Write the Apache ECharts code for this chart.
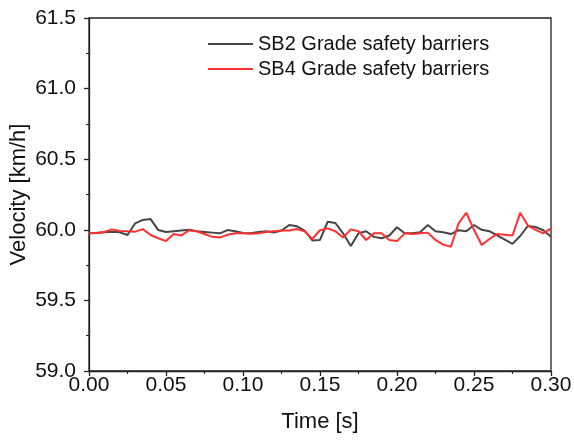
<!DOCTYPE html>
<html>
<head>
<meta charset="utf-8">
<script src="https://cdn.jsdelivr.net/npm/echarts@6/dist/echarts.min.js"></script>
<style>
  html, body { margin: 0; padding: 0; background: #fff; }
  #chart { width: 574px; height: 440px; }
</style>
</head>
<body>
<div id="chart"></div>
<script>
// time samples [s]
var times = [0.000, 0.005, 0.010, 0.015, 0.020, 0.025, 0.030, 0.035, 0.040, 0.045,
  0.050, 0.055, 0.060, 0.065, 0.070, 0.075, 0.080, 0.085, 0.090, 0.095,
  0.100, 0.105, 0.110, 0.115, 0.120, 0.125, 0.130, 0.135, 0.140, 0.145,
  0.150, 0.155, 0.160, 0.165, 0.170, 0.175, 0.180, 0.185, 0.190, 0.195,
  0.200, 0.205, 0.210, 0.215, 0.220, 0.225, 0.230, 0.235, 0.240, 0.245,
  0.250, 0.255, 0.260, 0.265, 0.270, 0.275, 0.280, 0.285, 0.290, 0.295, 0.300];

// SB2 velocity [km/h]
var sb2 = [59.975, 59.978, 59.982, 59.987, 59.982, 59.963, 60.046, 60.070, 60.076, 59.998,
  59.985, 59.990, 59.995, 60.000, 59.990, 59.985, 59.980, 59.975, 59.998, 59.990,
  59.978, 59.975, 59.985, 59.990, 59.980, 59.995, 60.034, 60.025, 59.995, 59.925,
  59.928, 60.057, 60.048, 59.975, 59.885, 59.975, 59.990, 59.950, 59.940, 59.960,
  60.018, 59.975, 59.975, 59.983, 60.034, 59.990, 59.983, 59.970, 59.997, 59.990,
  60.034, 60.000, 59.990, 59.960, 59.930, 59.900, 59.956, 60.027, 60.020, 59.997, 59.950];

// SB4 velocity [km/h]
var sb4 = [59.975, 59.978, 59.985, 60.003, 59.992, 59.990, 59.987, 60.005, 59.963, 59.940,
  59.920, 59.970, 59.960, 59.997, 59.990, 59.970, 59.950, 59.945, 59.965, 59.975,
  59.975, 59.972, 59.975, 59.985, 59.990, 59.995, 59.995, 60.005, 59.990, 59.935,
  59.997, 60.010, 59.990, 59.945, 60.003, 59.990, 59.928, 59.975, 59.975, 59.928,
  59.920, 59.975, 59.970, 59.975, 59.980, 59.928, 59.895, 59.880, 60.046, 60.121,
  60.000, 59.892, 59.935, 59.970, 59.965, 59.960, 60.120, 60.030, 60.000, 59.975, 60.010];

var seriesNames = ['SB2 Grade safety barriers', 'SB4 Grade safety barriers'];

function pairs(xs, ys) {
  var out = [];
  for (var i = 0; i < xs.length; i++) out.push([xs[i], ys[i]]);
  return out;
}

var chart = echarts.init(document.getElementById('chart'), null, { renderer: 'canvas' });
var font = 'Liberation Sans, Arial, sans-serif';

chart.setOption({
  animation: false,
  backgroundColor: '#fff',
  grid: {
    left: 89, right: 23, top: 18, bottom: 69,
    containLabel: false, outerBoundsMode: 'none',
    show: true, borderColor: '#222', borderWidth: 1.3
  },
  legend: {
    orient: 'vertical',
    left: 203, top: 29,
    icon: 'rect',
    itemWidth: 45, itemHeight: 2, itemGap: 5,
    textStyle: { fontFamily: font, fontSize: 20, color: '#111' },
    data: seriesNames
  },
  xAxis: {
    type: 'value',
    min: 0, max: 0.3, interval: 0.05,
    name: 'Time [s]', nameLocation: 'middle', nameGap: 40, nameMoveOverlap: false,
    nameTextStyle: { fontFamily: font, fontSize: 22, color: '#111' },
    axisLine: { lineStyle: { color: '#222', width: 1.3 } },
    axisTick: { show: true, length: 5, inside: false, lineStyle: { color: '#222', width: 1.3 } },
    minorTick: { show: true, splitNumber: 2, length: 3, lineStyle: { color: '#222', width: 1.1 } },
    splitLine: { show: false },
    axisLabel: {
      fontFamily: font, fontSize: 21, color: '#111', margin: 4,
      formatter: function (v) { return v.toFixed(2); }
    }
  },
  yAxis: {
    type: 'value',
    min: 59.0, max: 61.5, interval: 0.5,
    name: 'Velocity [km/h]', nameLocation: 'middle', nameGap: 59, nameMoveOverlap: false,
    nameTextStyle: { fontFamily: font, fontSize: 22, color: '#111' },
    axisLine: { show: true, lineStyle: { color: '#222', width: 1.3 } },
    axisTick: { show: true, length: 5, inside: false, lineStyle: { color: '#222', width: 1.3 } },
    minorTick: { show: true, splitNumber: 2, length: 3, lineStyle: { color: '#222', width: 1.1 } },
    splitLine: { show: false },
    axisLabel: {
      fontFamily: font, fontSize: 21, color: '#111', margin: 13,
      formatter: function (v) { return v.toFixed(1); }
    }
  },
  series: [
    {
      name: seriesNames[0], type: 'line', symbol: 'none',
      data: pairs(times, sb2),
      lineStyle: { color: '#454545', width: 2 },
      itemStyle: { color: '#454545' }
    },
    {
      name: seriesNames[1], type: 'line', symbol: 'none',
      data: pairs(times, sb4),
      lineStyle: { color: '#ff3030', width: 2 },
      itemStyle: { color: '#ff3030' }
    }
  ]
});
</script>
</body>
</html>
